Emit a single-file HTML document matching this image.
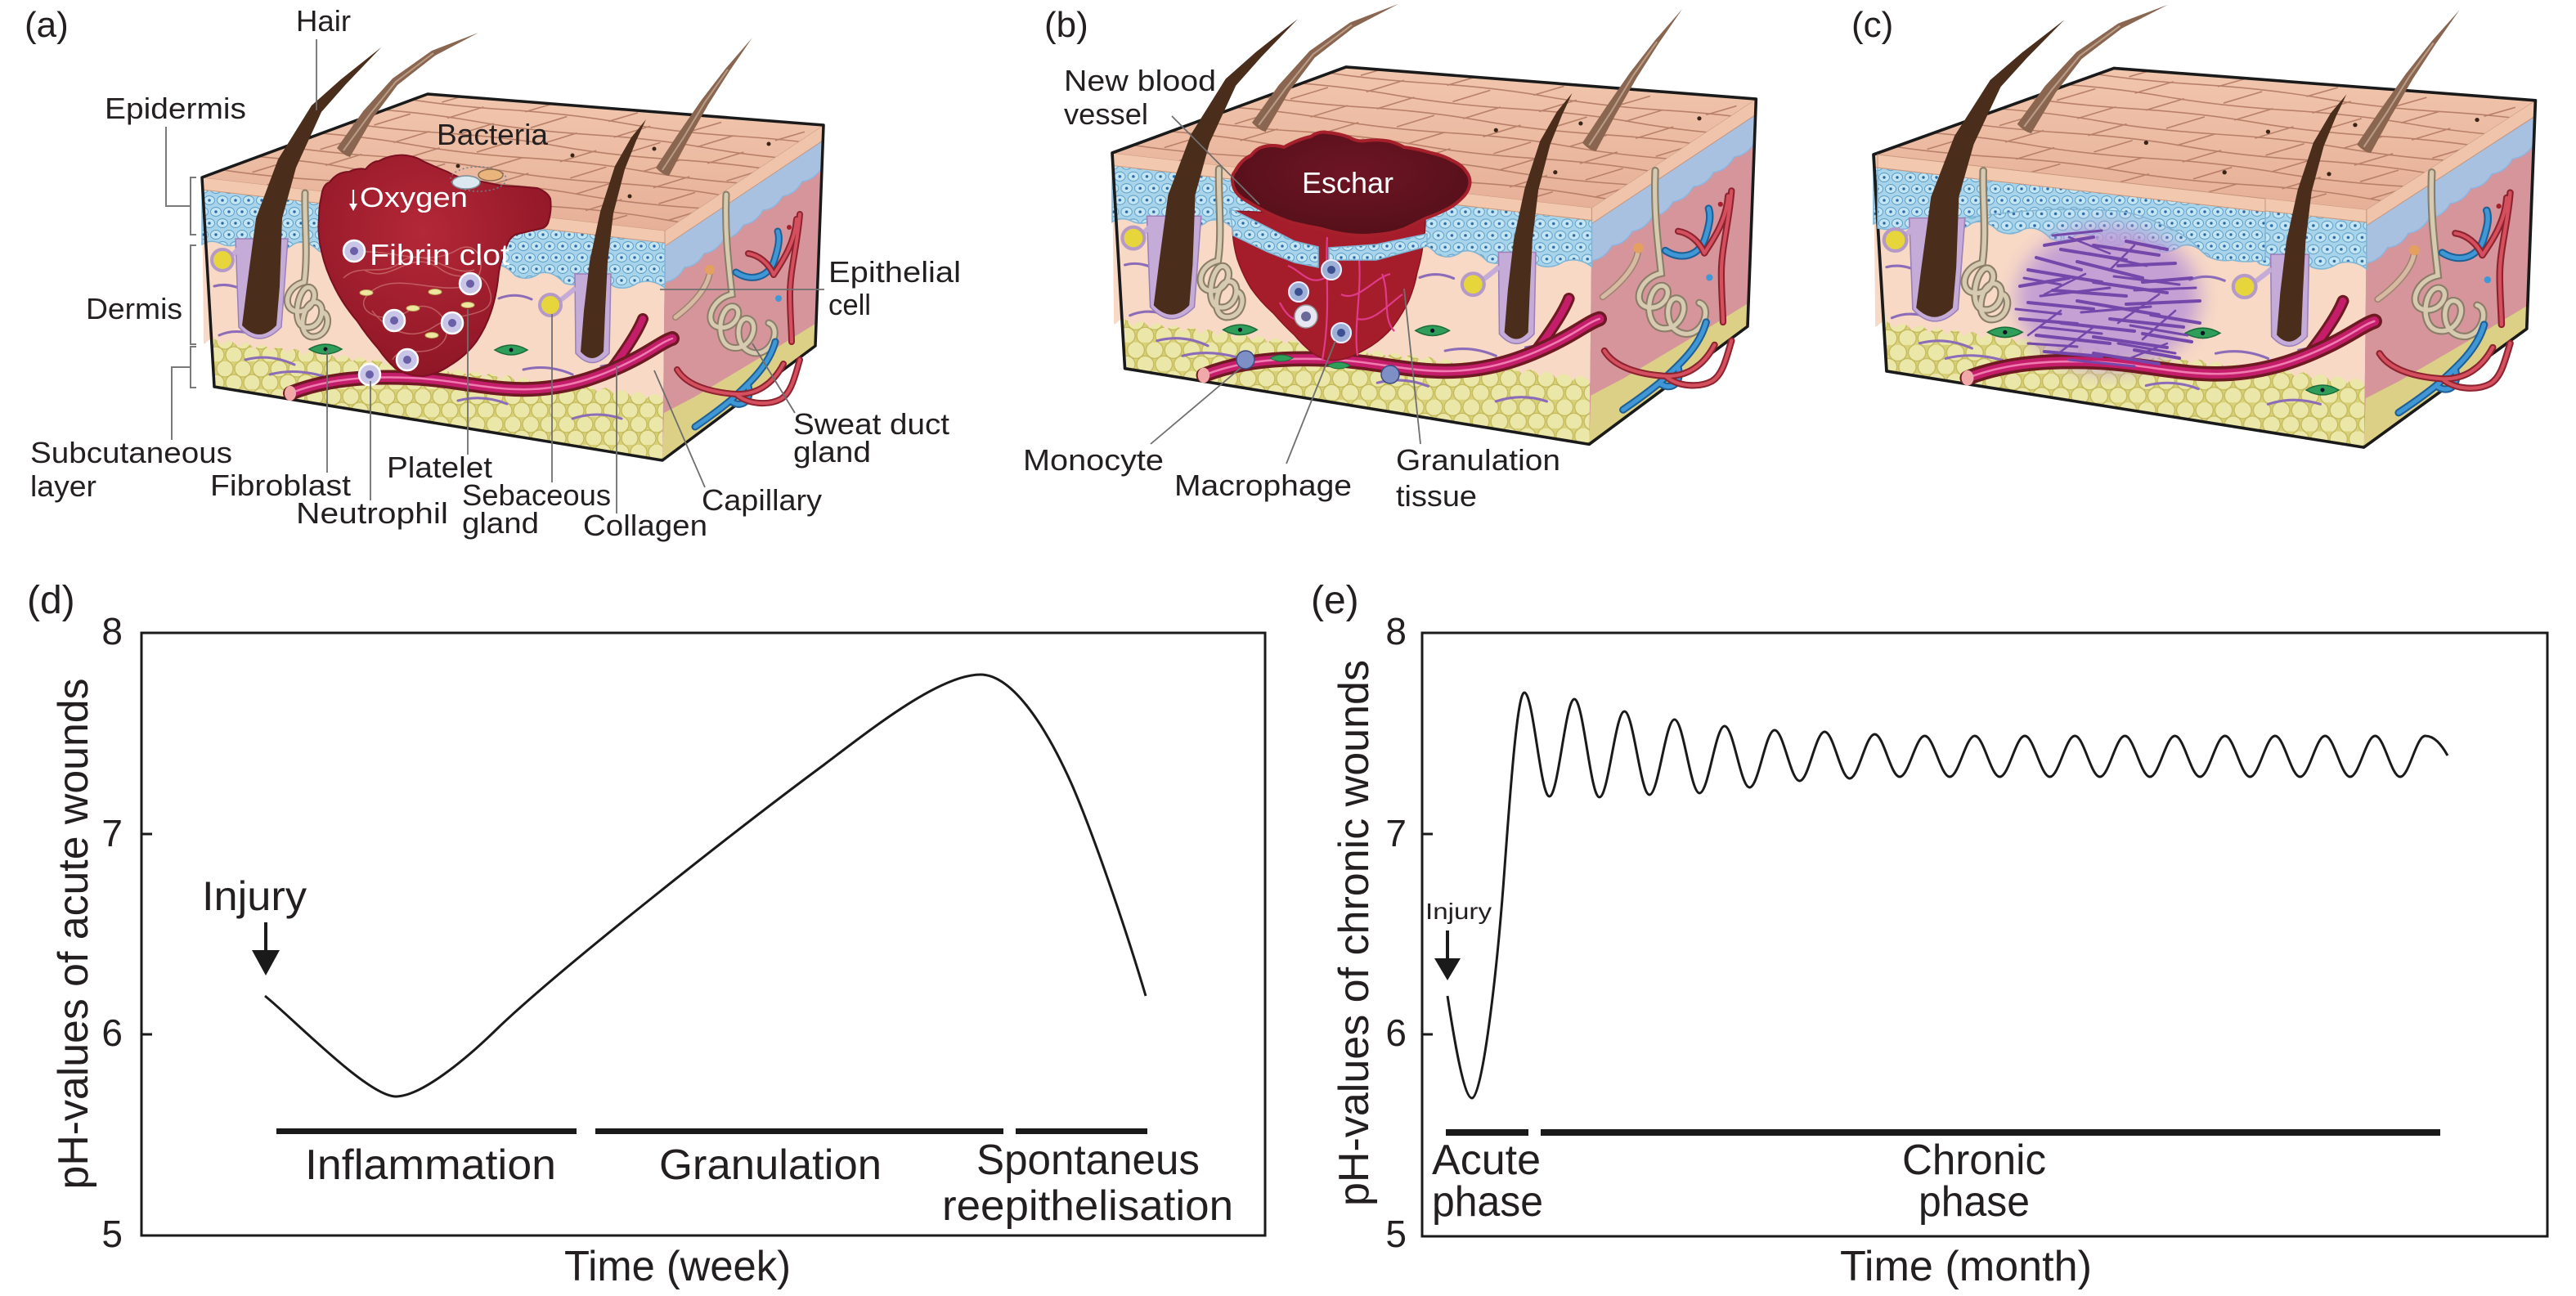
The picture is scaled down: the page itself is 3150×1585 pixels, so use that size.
<!DOCTYPE html>
<html><head><meta charset="utf-8"><style>
html,body{margin:0;padding:0;background:#fff;}
svg{display:block;}
text{font-family:"Liberation Sans",Arial,sans-serif;fill:#231f20;}
</style></head><body>
<svg xmlns="http://www.w3.org/2000/svg" width="3150" height="1585" viewBox="0 0 3150 1585">
<defs>
<pattern id="fat" width="44" height="34" patternUnits="userSpaceOnUse">
<rect width="44" height="34" fill="#d8d17a"/>
<g fill="#ebe7a8" stroke="#c2b858" stroke-width="1.2">
<circle cx="11" cy="9" r="10"/><circle cx="33" cy="9" r="10"/><circle cx="22" cy="26" r="10"/><circle cx="0" cy="26" r="10"/><circle cx="44" cy="26" r="10"/>
</g></pattern>
<pattern id="epi" width="16" height="28" patternUnits="userSpaceOnUse">
<rect width="16" height="28" fill="#a7d4ea"/>
<g fill="#c4e5f4" stroke="#5f9fc6" stroke-width="1">
<ellipse cx="8" cy="7" rx="6.5" ry="5.5"/><ellipse cx="0" cy="21" rx="6.5" ry="5.5"/><ellipse cx="16" cy="21" rx="6.5" ry="5.5"/>
</g>
<g fill="#2a6aa5"><circle cx="8" cy="7" r="1.7"/><circle cx="0" cy="21" r="1.7"/><circle cx="16" cy="21" r="1.7"/></g>
</pattern>
<linearGradient id="topg" x1="0" y1="0" x2="0" y2="1"><stop offset="0" stop-color="#f1c6ad"/><stop offset="1" stop-color="#e6b097"/></linearGradient>
<radialGradient id="clotg" cx="0.45" cy="0.35" r="0.7"><stop offset="0" stop-color="#b42838"/><stop offset="1" stop-color="#8c1524"/></radialGradient>
<radialGradient id="eschg" cx="0.5" cy="0.4" r="0.6"><stop offset="0" stop-color="#6e1524"/><stop offset="1" stop-color="#551019"/></radialGradient>
<filter id="blur"><feGaussianBlur stdDeviation="12"/></filter>
<clipPath id="topClip"><polygon points="247,217 523,115 1007,153 813,282"/></clipPath>

<g id="blkBack">
<polygon points="813,282 1007,153 997,423 810,563" fill="#d5959a"/>
<polygon points="810,563 812,505 850,485 900,455 950,425 997,396 997,423" fill="#dccf86"/>
<path d="M813,300 L1006,172 L1005,205 Q996,220 981,222 Q972,238 957,240 Q948,256 933,257 Q924,273 909,275 Q900,291 885,292 Q876,308 861,310 Q852,326 837,327 Q828,343 813,345 Z" fill="#a8c1e1" stroke="#8fb4de" stroke-width="1.5"/>
<polygon points="813,282 1007,153 1006,172 813,301" fill="#efc4aa" stroke="#c49880" stroke-width="1"/>
<polygon points="247,217 813,282 810,563 262,473" fill="url(#fat)"/>
<path d="M247,217 L813,282 L811,490 Q801,474.8 791,487.6 Q781,472.4 771,485.1 Q761,469.9 751,482.6 Q741,467.4 731,480.1 Q721,464.9 711,477.6 Q701,462.4 691,475.1 Q681,459.9 671,472.6 Q661,457.4 651,470.1 Q641,454.9 631,467.6 Q621,452.4 611,465.1 Q601,449.9 591,462.6 Q581,447.4 571,460.2 Q561,445 551,457.7 Q541,442.5 531,455.2 Q521,440 511,452.7 Q501,437.5 491,450.2 Q481,435 471,447.7 Q461,432.5 451,445.2 Q441,430 431,442.7 Q421,427.5 411,440.2 Q401,425 391,437.7 Q381,422.5 371,435.2 Q361,420 351,432.7 Q341,417.5 331,430.2 Q321,415 311,427.7 Q301,412.5 291,425.2 Q281,410 271,422.7 Q261,407.5 251,420.2 L249,420 Z" fill="#f7d9c5"/>
<path d="M247,231 L813,296 L813,352 Q797,340 780,346 Q765,356 750,350 Q735,336 720,341 Q705,352 690,346 Q675,330 660,334 Q645,345 630,337 Q615,320 600,325 Q585,336 570,330 Q555,314 540,319 Q525,330 510,323 Q495,307 480,312 Q465,323 450,316 Q435,300 420,305 Q405,315 390,307 Q375,292 360,298 Q345,310 330,303 Q315,288 300,293 Q285,305 270,298 Q258,292 247,299 Z" fill="url(#epi)" stroke="#80b5d6" stroke-width="1.5"/>
<polygon points="247,217 813,282 813,297 247,232" fill="#f2c9af" stroke="#c8977c" stroke-width="1"/>
<polygon points="247,217 523,115 1007,153 813,282" fill="url(#topg)"/>
<g clip-path="url(#topClip)">
<g transform="matrix(5.66,0.65,2.76,-1.02,247,217)" fill="none" stroke="#b98069" stroke-width="1.6">
<path vector-effect="non-scaling-stroke" d="M-5,10 Q7.5,7 20,10 T45,10 T70,10 T95,10 T120,10 M-5,24 Q7.5,27 20,24 T45,24 T70,24 T95,24 T120,24 M-5,38 Q7.5,35 20,38 T45,38 T70,38 T95,38 T120,38 M-5,52 Q7.5,55 20,52 T45,52 T70,52 T95,52 T120,52 M-5,66 Q7.5,63 20,66 T45,66 T70,66 T95,66 T120,66 M-5,80 Q7.5,83 20,80 T45,80 T70,80 T95,80 T120,80 M-5,94 Q7.5,91 20,94 T45,94 T70,94 T95,94 T120,94"/>
<path vector-effect="non-scaling-stroke" d="M14,0 L15,10 M32,0 L33,10 M50,0 L51,10 M68,0 L69,10 M86,0 L87,10 M104,0 L105,10 M6,10 L7,24 M24,10 L25,24 M42,10 L43,24 M60,10 L61,24 M78,10 L79,24 M96,10 L97,24 M15,24 L16,38 M33,24 L34,38 M51,24 L52,38 M69,24 L70,38 M87,24 L88,38 M105,24 L106,38 M7,38 L8,52 M25,38 L26,52 M43,38 L44,52 M61,38 L62,52 M79,38 L80,52 M97,38 L98,52 M16,52 L17,66 M34,52 L35,66 M52,52 L53,66 M70,52 L71,66 M88,52 L89,66 M106,52 L107,66 M5,66 L6,80 M23,66 L24,80 M41,66 L42,80 M59,66 L60,80 M77,66 L78,80 M95,66 L96,80 M14,80 L15,94 M32,80 L33,94 M50,80 L51,94 M68,80 L69,94 M86,80 L87,94 M104,80 L105,94 M6,94 L7,105 M24,94 L25,105 M42,94 L43,105 M60,94 L61,105 M78,94 L79,105 M96,94 L97,105"/>
</g>
<g fill="#3a2418"><circle cx="560" cy="203" r="2.5"/><circle cx="700" cy="190" r="2.5"/><circle cx="800" cy="182" r="2.5"/><circle cx="940" cy="176" r="2.5"/><circle cx="650" cy="238" r="2.5"/><circle cx="770" cy="240" r="2.5"/></g>
</g>
<path d="M247,217 L523,115 L1007,153 L997,423 L810,563 L262,473 Z" fill="none" stroke="#1a1a1a" stroke-width="3.5" stroke-linejoin="round"/>
</g>

<g id="blkFront">
<g fill="none" stroke="#8c6cb8" stroke-width="3" stroke-linecap="round">
<path d="M262,350 Q280,345 300,356"/><path d="M268,410 Q290,400 318,412"/><path d="M300,440 Q330,432 360,446"/><path d="M330,458 Q360,450 395,460"/><path d="M610,365 Q630,357 650,366"/><path d="M640,452 Q670,445 700,458"/><path d="M735,448 Q755,444 770,450"/><path d="M700,512 Q730,502 760,512"/><path d="M560,490 Q590,482 620,494"/>
</g>
<path d="M288,292 L292,400 Q317,428 344,400 L352,292 Z" fill="#c5acd8" stroke="#9b80ba" stroke-width="1.5"/>
<path d="M284,312 Q292,305 296,298" fill="none" stroke="#c5acd8" stroke-width="6"/>
<circle cx="272" cy="318" r="13" fill="#e6d63c" stroke="#b59ac8" stroke-width="4"/>
<path d="M296,398 L302,350 L313,267 L340,195 L381,129 L417,97 L466,58 L423,103 L393,137 L362,205 L345,267 L342,350 L338,398 Q317,420 296,398 Z" fill="#4a2d1b"/>
<path d="M412,181 L444,136 L480,96 L528,62 L585,40 L532,68 L486,104 L456,144 L428,192 Q420,190 412,181 Z" fill="#8a6650"/>
<path d="M420,184 L452,140 L484,100 L530,65" fill="none" stroke="#b99c86" stroke-width="2"/>
<path d="M703,335 L704,432 Q724,455 745,432 L747,335 Z" fill="#c5acd8" stroke="#9b80ba" stroke-width="1.5"/>
<path d="M684,368 Q695,360 704,352" fill="none" stroke="#c5acd8" stroke-width="6"/>
<circle cx="673" cy="373" r="13" fill="#e6d63c" stroke="#b59ac8" stroke-width="4"/>
<path d="M710,430 L714,380 L721,320 L734,259 L752,203 L772,168 L790,146 L778,172 L764,207 L750,261 L743,320 L740,380 L738,430 Q724,446 710,430 Z" fill="#4a2d1b"/>
<path d="M802,205 L829,164 L858,122 L888,83 L920,46 L892,87 L866,128 L841,172 L818,215 Q810,214 802,205 Z" fill="#8a6650"/>
<path d="M810,208 L836,168 L862,125 L890,85" fill="none" stroke="#b99c86" stroke-width="2"/>
<g fill="none" stroke-linecap="round">
<path d="M373,236 C372,270 377,310 372,345 C350,350 345,375 360,380 C378,386 392,360 380,352 C366,345 355,395 372,400 C392,405 400,375 388,370 C372,364 360,410 382,412 C402,412 405,385 395,382" stroke="#8a7e69" stroke-width="9"/>
<path d="M373,236 C372,270 377,310 372,345 C350,350 345,375 360,380 C378,386 392,360 380,352 C366,345 355,395 372,400 C392,405 400,375 388,370 C372,364 360,410 382,412 C402,412 405,385 395,382" stroke="#d6cbb0" stroke-width="5"/>
</g>
<g fill="#2f9e5a" stroke="#1d6b3a" stroke-width="1.5">
<path d="M378,427 Q398,415 418,427 Q398,439 378,427 Z"/><path d="M605,428 Q625,416 645,428 Q625,440 605,428 Z"/>
</g>
<circle cx="398" cy="427" r="2.5" fill="#112"/><circle cx="625" cy="428" r="2.5" fill="#112"/>
<g fill="none" stroke-linecap="round">
<path d="M745,455 C760,435 778,410 786,390" stroke="#6e1a22" stroke-width="14"/>
<path d="M745,455 C760,435 778,410 786,390" stroke="#c41d6a" stroke-width="8"/>
<path d="M355,481 C400,463 450,460 500,462 C555,464 600,478 650,476 C700,474 740,458 775,440 C800,427 810,418 822,414" stroke="#6e1a22" stroke-width="18"/>
<path d="M355,481 C400,463 450,460 500,462 C555,464 600,478 650,476 C700,474 740,458 775,440 C800,427 810,418 822,414" stroke="#c41d6a" stroke-width="11"/>
<path d="M355,481 C400,463 450,460 500,462 C555,464 600,478 650,476 C700,474 740,458 775,440 C800,427 810,418 822,414" stroke="#f07bb0" stroke-width="2.5"/>
</g>
<ellipse cx="355" cy="481" rx="7" ry="9" fill="#f0a9a8"/>
<g fill="none" stroke-linecap="round">
<path d="M868,332 C866,350 850,370 826,388" stroke="#9c8470" stroke-width="8"/>
<path d="M868,332 C866,350 850,370 826,388" stroke="#d8b9a2" stroke-width="5"/>
<path d="M888,238 C886,290 892,330 895,360 C870,365 860,395 878,400 C898,405 910,380 898,375 C880,370 872,420 895,425 C918,430 930,395 915,390 C900,385 895,430 925,432 C945,432 955,400 940,395" stroke="#8a7e69" stroke-width="9"/>
<path d="M888,238 C886,290 892,330 895,360 C870,365 860,395 878,400 C898,405 910,380 898,375 C880,370 872,420 895,425 C918,430 930,395 915,390 C900,385 895,430 925,432 C945,432 955,400 940,395" stroke="#d6cbb0" stroke-width="5"/>
<path d="M900,333 C918,345 940,340 947,318 C952,302 954,292 951,283" stroke="#1e5f96" stroke-width="9"/>
<path d="M900,333 C918,345 940,340 947,318 C952,302 954,292 951,283" stroke="#3f97d6" stroke-width="5"/>
<path d="M915,310 C928,312 940,322 946,336 M974,268 C972,296 958,318 946,336 M978,262 C975,300 966,330 966,360 C966,385 968,405 968,418" stroke="#8e2330" stroke-width="8"/>
<path d="M915,310 C928,312 940,322 946,336 M974,268 C972,296 958,318 946,336 M978,262 C975,300 966,330 966,360 C966,385 968,405 968,418" stroke="#d4505e" stroke-width="4"/>
<path d="M948,418 C940,448 915,470 893,490 C875,505 860,515 850,522 M893,490 C905,500 920,492 915,472" stroke="#1e5f96" stroke-width="9"/>
<path d="M948,418 C940,448 915,470 893,490 C875,505 860,515 850,522 M893,490 C905,500 920,492 915,472" stroke="#3f97d6" stroke-width="5"/>
<path d="M828,452 C840,472 870,480 900,482 C925,483 945,470 958,445 M900,482 C915,495 940,496 955,488 C968,480 972,460 978,440" stroke="#8e2330" stroke-width="8"/>
<path d="M828,452 C840,472 870,480 900,482 C925,483 945,470 958,445 M900,482 C915,495 940,496 955,488 C968,480 972,460 978,440" stroke="#d4505e" stroke-width="4"/>
</g>
<circle cx="868" cy="330" r="6" fill="#e4a05e"/>
<circle cx="965" cy="278" r="3" fill="#a8202c"/><circle cx="952" cy="365" r="4" fill="#3f97d6"/>
</g>
</defs>

<!-- ===== Panel (a) ===== -->
<use href="#blkBack"/>
<use href="#blkFront"/>
<path d="M393,240 Q395,225 403,223 Q412,210 427,210 Q437,205 447,207 Q455,197 463,197 Q480,188 497,190 Q510,192 517,197 Q532,204 547,210 Q556,215 563,217 Q590,222 613,227 Q636,228 657,230 Q670,235 673,243 Q675,258 670,273 Q667,279 660,280 Q645,283 630,287 Q622,292 620,300 Q613,315 610,333 Q608,355 603,373 Q596,398 583,417 Q570,435 550,447 Q534,458 517,460 Q498,460 483,450 Q472,440 463,427 Q448,410 437,393 Q420,373 410,353 Q398,330 393,307 Q388,285 390,267 Q390,252 393,240 Z" fill="url(#clotg)" stroke="#7a1020" stroke-width="2"/>
<g fill="none" stroke="#dc8f8a" stroke-width="1.5" opacity="0.55">
<path d="M430,310 C470,300 520,330 560,305 C590,290 600,340 570,350 C530,360 480,330 450,360 C430,380 470,400 500,380 C530,360 560,400 540,420 C520,440 490,420 480,440"/>
<path d="M445,330 C480,350 500,300 540,330 C570,350 590,320 600,360 C605,390 560,380 530,400 C500,420 470,400 455,380"/>
<path d="M420,340 C440,320 470,340 490,320 C520,300 550,340 580,330"/>
</g>
<g stroke="#fff" stroke-width="2.5" fill="#c9c5e6">
<circle cx="433" cy="307" r="13"/><circle cx="575" cy="347" r="13"/><circle cx="482" cy="392" r="13"/><circle cx="553" cy="395" r="13"/><circle cx="498" cy="440" r="13"/><circle cx="452" cy="458" r="13"/>
</g>
<g fill="#6b5fa8"><circle cx="433" cy="307" r="5"/><circle cx="575" cy="347" r="5"/><circle cx="482" cy="392" r="5"/><circle cx="553" cy="395" r="5"/><circle cx="498" cy="440" r="5"/><circle cx="452" cy="458" r="5"/></g>
<g fill="#efe7a0" stroke="#b9a957" stroke-width="1"><ellipse cx="448" cy="358" rx="8" ry="3.5"/><ellipse cx="532" cy="357" rx="8" ry="3.5"/><ellipse cx="505" cy="377" rx="8" ry="3.5"/><ellipse cx="572" cy="373" rx="8" ry="3.5"/><ellipse cx="528" cy="410" rx="8" ry="3.5"/></g>
<ellipse cx="585" cy="219" rx="34" ry="15" fill="none" stroke="#6d7f8c" stroke-width="1.5" stroke-dasharray="2 3"/>
<ellipse cx="570" cy="223" rx="17" ry="8" fill="#dce8ef" stroke="#7d8d99" stroke-width="1.5"/>
<ellipse cx="600" cy="214" rx="15" ry="7" fill="#e9b57c" stroke="#8d6b50" stroke-width="1.5"/>
<path d="M432,232 L432,250" stroke="#fff" stroke-width="2.2"/>
<polygon points="427,249 437,249 432,258" fill="#fff"/>
<text x="440" y="253" font-size="34" style="fill:#fff" textLength="132" lengthAdjust="spacingAndGlyphs">Oxygen</text>
<text x="452" y="324" font-size="36" style="fill:#fff" textLength="171" lengthAdjust="spacingAndGlyphs">Fibrin clot</text>

<g fill="none" stroke="#7a7a7a" stroke-width="2">
<path d="M240,217 L233,217 L233,287 L240,287 M233,252 L203,252 L203,155"/>
<path d="M240,300 L233,300 L233,421 L240,421"/>
<path d="M240,424 L233,424 L233,474 L240,474 M233,449 L210,449 L210,538"/>
</g>
<g fill="none" stroke="#6f6f6f" stroke-width="1.8">
<path d="M387,48 L387,135"/><path d="M400,428 L400,578"/><path d="M453,466 L453,612"/><path d="M572,378 L572,556"/><path d="M675,384 L675,590"/><path d="M754,447 L754,628"/><path d="M800,453 L862,596"/><path d="M920,420 L972,505"/><path d="M807,354 L1008,354"/>
</g>

<!-- ===== Panel (b) ===== -->
<use href="#blkBack" transform="translate(1360,187) scale(1.036,1.03) translate(-247,-217)"/>
<use href="#blkFront" transform="translate(1360,187) scale(1.036,1.03) translate(-247,-217)"/>
<path d="M1507,280 Q1508,300 1513,317 Q1520,337 1530,353 Q1542,370 1557,383 Q1570,398 1583,410 Q1593,422 1603,430 Q1613,438 1623,440 Q1637,442 1650,437 Q1664,431 1677,423 Q1692,413 1703,400 Q1715,384 1723,367 Q1730,350 1733,333 Q1738,316 1740,300 Q1743,284 1743,267 L1507,258 Z" fill="#a51d2b" stroke="#8a1522" stroke-width="1.5"/>
<g fill="none" stroke="#e03a8a" stroke-width="2.2">
<path d="M1623,290 C1620,330 1628,380 1617,440"/><path d="M1662,318 C1665,360 1655,400 1660,435"/><path d="M1620,340 C1600,350 1590,330 1575,325"/><path d="M1640,360 C1660,370 1680,340 1700,335"/><path d="M1660,390 C1680,395 1700,370 1715,360"/><path d="M1600,380 C1590,400 1575,390 1565,370"/><path d="M1690,335 C1700,360 1690,390 1705,405"/>
</g>
<polygon points="1504,255 1550,278 1583,295 1612,302 1612,327 1583,321 1550,308 1508,288" fill="url(#epi)" stroke="#7eb3d4" stroke-width="1.5"/>
<polygon points="1625,303 1683,299 1745,286 1745,301 1683,318 1625,318" fill="url(#epi)" stroke="#7eb3d4" stroke-width="1.5"/>
<path d="M1508,227 Q1505,215 1510,210 Q1518,195 1530,190 Q1536,182 1543,180 Q1556,176 1570,180 Q1588,170 1603,167 Q1613,160 1623,162 Q1637,163 1650,168 Q1660,174 1670,172 Q1686,170 1700,173 Q1710,176 1717,180 Q1734,182 1750,187 Q1765,190 1777,197 Q1788,202 1793,210 Q1799,218 1797,227 Q1795,236 1787,243 Q1778,252 1767,257 Q1755,263 1743,267 Q1730,274 1717,280 Q1700,286 1683,287 Q1666,289 1650,287 Q1633,285 1617,280 Q1600,277 1583,273 Q1566,268 1550,260 Q1534,252 1520,243 Q1510,236 1508,227 Z" fill="url(#eschg)" stroke="#a6202c" stroke-width="4"/>
<g stroke="#eef" stroke-width="2" fill="#9fb0d8"><circle cx="1628" cy="330" r="12"/><circle cx="1588" cy="357" r="12"/><circle cx="1640" cy="407" r="12"/></g>
<g fill="#3c4f90"><circle cx="1628" cy="330" r="5"/><circle cx="1588" cy="357" r="5"/><circle cx="1640" cy="407" r="5"/></g>
<circle cx="1597" cy="387" r="14" fill="#e8e6f0" stroke="#999" stroke-width="1.5"/>
<circle cx="1597" cy="387" r="6" fill="#6a6a9a"/>
<g fill="#7d8fc4" stroke="#3b4a80" stroke-width="1.5"><circle cx="1523" cy="440" r="11"/><circle cx="1700" cy="458" r="11"/></g>
<g fill="#2f9e5a" stroke="#1d6b3a" stroke-width="1"><path d="M1553,438 Q1567,430 1581,438 Q1567,446 1553,438 Z"/><path d="M1623,447 Q1637,439 1651,447 Q1637,455 1623,447 Z"/></g>
<text x="1592" y="236" font-size="36" style="fill:#fff" textLength="112" lengthAdjust="spacingAndGlyphs">Eschar</text>
<g fill="none" stroke="#6f6f6f" stroke-width="1.8">
<path d="M1433,142 L1540,250"/><path d="M1407,543 L1517,450"/><path d="M1573,567 L1633,417"/><path d="M1737,543 L1717,353"/>
</g>

<!-- ===== Panel (c) ===== -->
<use href="#blkBack" transform="translate(2291,189) scale(1.065,1.035) translate(-247,-217)"/>
<path d="M2296,205 L2770,258 L2770,318 Q2745,322 2730,318 Q2705,322 2690,305 Q2670,285 2650,278 Q2620,262 2590,258 Q2550,255 2510,256 Q2470,258 2440,262 Q2410,266 2380,268 Q2350,274 2330,280 Q2310,282 2296,279 Z" fill="url(#epi)" stroke="#80b5d6" stroke-width="1.5"/>
<path d="M2296,189 L2770,243 L2770,259 L2296,205 Z" fill="#f2c9af" stroke="#c8977c" stroke-width="1"/>
<ellipse cx="2578" cy="365" rx="112" ry="88" fill="#bf9ad6" opacity="0.9" filter="url(#blur)"/>
<use href="#blkFront" transform="translate(2291,189) scale(1.065,1.035) translate(-247,-217)"/>
<g fill="none" stroke="#7447aa" stroke-width="4" stroke-linecap="round">
<path d="M2500,300 L2560,290 M2520,305 L2600,318 M2490,315 L2545,330 M2560,300 L2640,312 M2600,295 L2650,305 M2480,330 L2570,345 M2540,320 L2620,340 M2590,325 L2660,322 M2470,350 L2530,340 M2510,355 L2600,362 M2560,345 L2650,358 M2620,345 L2680,340 M2480,370 L2560,378 M2540,368 L2640,385 M2600,372 L2690,368 M2470,390 L2540,396 M2520,395 L2610,405 M2580,390 L2670,400 M2630,385 L2690,395 M2490,410 L2580,420 M2560,412 L2650,425 M2620,408 L2680,418 M2500,430 L2570,436 M2560,432 L2640,445 M2610,428 L2665,438"/>
<path d="M2510,288 L2570,282 M2475,340 L2520,348 M2495,362 L2580,352 M2585,338 L2665,348 M2465,378 L2520,384 M2545,382 L2630,375 M2495,400 L2570,408 M2605,398 L2675,410 M2480,420 L2540,424 M2590,420 L2660,432 M2530,440 L2610,448 M2555,310 L2625,325 M2610,355 L2685,352" stroke-width="3"/>
<path d="M2530,290 L2580,310 M2610,300 L2580,330 M2550,335 L2500,360 M2640,360 L2590,395 M2520,380 L2480,410 M2660,380 L2620,415 M2560,400 L2520,430 M2600,440 L2650,420" stroke-width="2.5"/>
</g>
<path d="M2820,477 Q2840,465 2860,477 Q2840,489 2820,477 Z" fill="#2f9e5a" stroke="#1d6b3a" stroke-width="1.5"/>
<circle cx="2840" cy="477" r="2.5" fill="#112"/>

<!-- ===== Top labels ===== -->
<g font-size="44">
<text x="30" y="45">(a)</text><text x="1277" y="45">(b)</text><text x="2264" y="45">(c)</text>
</g>
<g font-size="36">
<text x="362" y="38" textLength="67" lengthAdjust="spacingAndGlyphs">Hair</text>
<text x="128" y="145" textLength="173" lengthAdjust="spacingAndGlyphs">Epidermis</text>
<text x="534" y="177" textLength="136" lengthAdjust="spacingAndGlyphs">Bacteria</text>
<text x="105" y="390" textLength="118" lengthAdjust="spacingAndGlyphs">Dermis</text>
<text x="37" y="566" textLength="247" lengthAdjust="spacingAndGlyphs">Subcutaneous</text>
<text x="37" y="607" textLength="81" lengthAdjust="spacingAndGlyphs">layer</text>
<text x="257" y="606" textLength="172" lengthAdjust="spacingAndGlyphs">Fibroblast</text>
<text x="473" y="584" textLength="129" lengthAdjust="spacingAndGlyphs">Platelet</text>
<text x="362" y="640" textLength="186" lengthAdjust="spacingAndGlyphs">Neutrophil</text>
<text x="565" y="618" textLength="182" lengthAdjust="spacingAndGlyphs">Sebaceous</text>
<text x="565" y="652" textLength="94" lengthAdjust="spacingAndGlyphs">gland</text>
<text x="713" y="655" textLength="152" lengthAdjust="spacingAndGlyphs">Collagen</text>
<text x="858" y="624" textLength="147" lengthAdjust="spacingAndGlyphs">Capillary</text>
<text x="970" y="531" textLength="191" lengthAdjust="spacingAndGlyphs">Sweat duct</text>
<text x="970" y="565" textLength="95" lengthAdjust="spacingAndGlyphs">gland</text>
<text x="1013" y="345" textLength="162" lengthAdjust="spacingAndGlyphs">Epithelial</text>
<text x="1013" y="385" textLength="52" lengthAdjust="spacingAndGlyphs">cell</text>
<text x="1301" y="111" textLength="186" lengthAdjust="spacingAndGlyphs">New blood</text>
<text x="1301" y="152" textLength="103" lengthAdjust="spacingAndGlyphs">vessel</text>
<text x="1251" y="575" textLength="172" lengthAdjust="spacingAndGlyphs">Monocyte</text>
<text x="1436" y="606" textLength="217" lengthAdjust="spacingAndGlyphs">Macrophage</text>
<text x="1707" y="575" textLength="201" lengthAdjust="spacingAndGlyphs">Granulation</text>
<text x="1707" y="619" textLength="99" lengthAdjust="spacingAndGlyphs">tissue</text>
</g>

<!-- ===== Graph (d) ===== -->
<text x="33" y="750" font-size="48">(d)</text>
<rect x="173" y="774" width="1374" height="737" fill="none" stroke="#1a1a1a" stroke-width="3"/>
<path d="M173,1020 L186,1020 M173,1265 L186,1265" stroke="#1a1a1a" stroke-width="3"/>
<g font-size="46" text-anchor="end"><text x="150" y="788">8</text><text x="150" y="1035">7</text><text x="150" y="1279">6</text><text x="150" y="1525">5</text></g>
<text transform="translate(107,1142) rotate(-90)" text-anchor="middle" font-size="52" textLength="625" lengthAdjust="spacingAndGlyphs">pH-values of acute wounds</text>
<path d="M324,1218 C360,1247 450,1341 484,1341 C515,1341 570,1295 605,1261 C680,1188 900,1015 1008,935 C1070,888 1150,825 1199,825 C1235,825 1275,880 1310,958 C1335,1015 1375,1130 1401,1218" fill="none" stroke="#1a1a1a" stroke-width="3"/>
<text x="247" y="1113" font-size="50" textLength="128" lengthAdjust="spacingAndGlyphs">Injury</text>
<path d="M325,1128 L325,1166" stroke="#1a1a1a" stroke-width="4"/>
<polygon points="308,1162 342,1162 325,1193" fill="#1a1a1a"/>
<g fill="#1a1a1a"><rect x="338" y="1380" width="367" height="7"/><rect x="728" y="1380" width="499" height="7"/><rect x="1242" y="1380" width="161" height="7"/></g>
<g font-size="52">
<text x="373" y="1442" textLength="307" lengthAdjust="spacingAndGlyphs">Inflammation</text>
<text x="806" y="1442" textLength="272" lengthAdjust="spacingAndGlyphs">Granulation</text>
<text x="1194" y="1436" textLength="273" lengthAdjust="spacingAndGlyphs">Spontaneus</text>
<text x="1152" y="1492" textLength="356" lengthAdjust="spacingAndGlyphs">reepithelisation</text>
<text x="690" y="1566" textLength="277" lengthAdjust="spacingAndGlyphs">Time (week)</text>
</g>

<!-- ===== Graph (e) ===== -->
<text x="1603" y="750" font-size="48">(e)</text>
<rect x="1739" y="774" width="1376" height="738" fill="none" stroke="#1a1a1a" stroke-width="3"/>
<path d="M1739,1020 L1752,1020 M1739,1265 L1752,1265" stroke="#1a1a1a" stroke-width="3"/>
<g font-size="46" text-anchor="end"><text x="1720" y="788">8</text><text x="1720" y="1035">7</text><text x="1720" y="1279">6</text><text x="1720" y="1525">5</text></g>
<text transform="translate(1673,1141) rotate(-90)" text-anchor="middle" font-size="52" textLength="668" lengthAdjust="spacingAndGlyphs">pH-values of chronic wounds</text>
<path d="M1770,1218 C1778,1270 1790,1343 1800,1343 C1812,1343 1830,1200 1840,1060 C1848,950 1856,847 1864,847 C1875,847 1883.6,974 1894.6,974 C1905.6,974 1914.2,855 1925.2,855 C1936.2,855 1944.8,975 1955.8,975 C1966.8,975 1975.4,870 1986.4,870 C1997.4,870 2006,972 2017,972 C2028,972 2036.6,880 2047.6,880 C2058.6,880 2067.2,970 2078.2,970 C2089.2,970 2097.8,888 2108.8,888 C2119.8,888 2128.4,963 2139.4,963 C2150.4,963 2159,893 2170,893 C2181,893 2189.6,955 2200.6,955 C2211.6,955 2220.2,895 2231.2,895 C2242.2,895 2250.8,952 2261.8,952 C2272.8,952 2281.4,898 2292.4,898 C2303.4,898 2312,950 2323,950 C2334,950 2342.6,900 2353.6,900 C2364.6,900 2373.2,950 2384.2,950 C2395.2,950 2403.8,900 2414.8,900 C2425.8,900 2434.4,950 2445.4,950 C2456.4,950 2465,900 2476,900 C2487,900 2495.6,950 2506.6,950 C2517.6,950 2526.2,900 2537.2,900 C2548.2,900 2556.8,950 2567.8,950 C2578.8,950 2587.4,900 2598.4,900 C2609.4,900 2618,950 2629,950 C2640,950 2648.6,900 2659.6,900 C2670.6,900 2679.2,950 2690.2,950 C2701.2,950 2709.8,900 2720.8,900 C2731.8,900 2740.4,950 2751.4,950 C2762.4,950 2771,900 2782,900 C2793,900 2801.6,950 2812.6,950 C2823.6,950 2832.2,900 2843.2,900 C2854.2,900 2862.8,950 2873.8,950 C2884.8,950 2893.4,900 2904.4,900 C2915.4,900 2924,950 2935,950 C2946,950 2954.6,900 2965.6,900 C2976.6,900 2985,910 2993,924" fill="none" stroke="#1a1a1a" stroke-width="3"/>
<text x="1743" y="1124" font-size="28" textLength="81" lengthAdjust="spacingAndGlyphs">Injury</text>
<path d="M1770,1138 L1770,1176" stroke="#1a1a1a" stroke-width="4"/>
<polygon points="1754,1172 1786,1172 1770,1199" fill="#1a1a1a"/>
<g fill="#1a1a1a"><rect x="1768" y="1381" width="101" height="8"/><rect x="1884" y="1381" width="1100" height="8"/></g>
<g font-size="52">
<text x="1751" y="1436" textLength="133" lengthAdjust="spacingAndGlyphs">Acute</text>
<text x="1751" y="1487" textLength="136" lengthAdjust="spacingAndGlyphs">phase</text>
<text x="2326" y="1436" textLength="176" lengthAdjust="spacingAndGlyphs">Chronic</text>
<text x="2346" y="1487" textLength="136" lengthAdjust="spacingAndGlyphs">phase</text>
<text x="2250" y="1566" textLength="308" lengthAdjust="spacingAndGlyphs">Time (month)</text>
</g>
</svg>
</body></html>
